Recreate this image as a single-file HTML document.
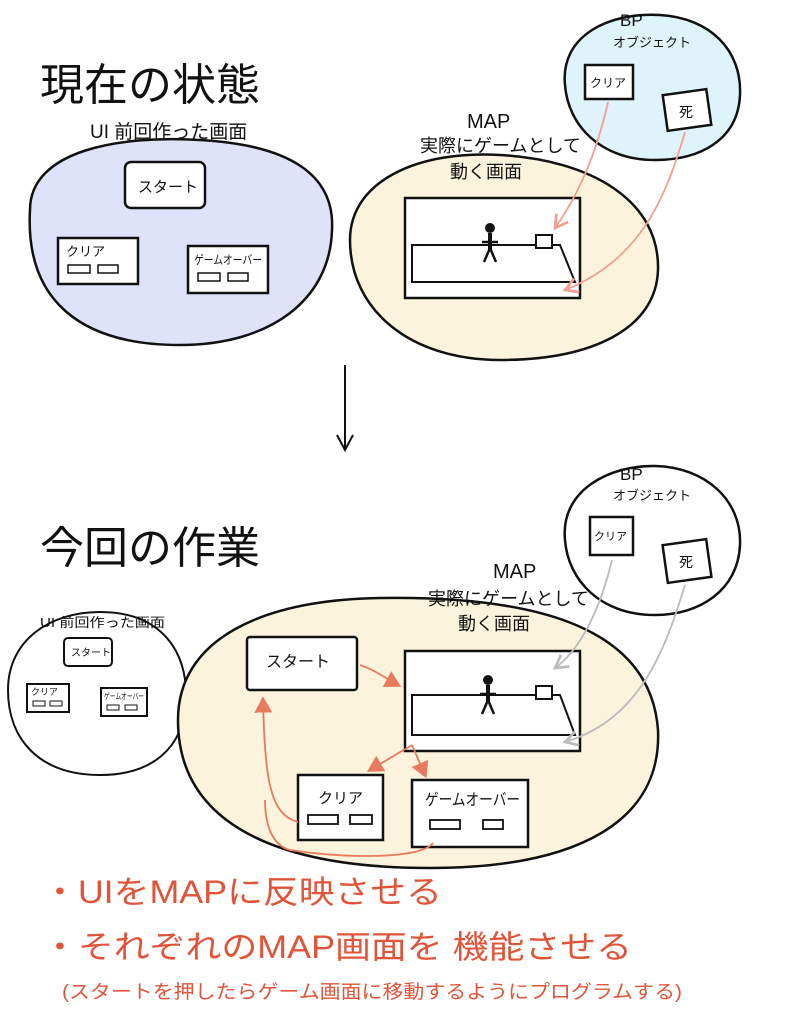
<!DOCTYPE html>
<html><head><meta charset="utf-8"><style>
html,body{margin:0;padding:0;background:#fff;}
svg{display:block;}
text{font-family:"Liberation Sans","Noto Sans CJK JP",sans-serif;fill:#111;}
</style></head><body>
<svg width="802" height="1024" viewBox="0 0 802 1024" xmlns="http://www.w3.org/2000/svg">
<defs>
<marker id="ap" markerWidth="10" markerHeight="10" refX="8" refY="5" orient="auto"><path d="M1,1 L8,5 L1,9" fill="none" stroke="#f0a090" stroke-width="1.5"/></marker>
<marker id="ag" markerWidth="10" markerHeight="10" refX="8" refY="5" orient="auto"><path d="M1,1 L8,5 L1,9" fill="none" stroke="#bbb" stroke-width="1.5"/></marker>
<marker id="ar" markerWidth="10" markerHeight="10" refX="7" refY="5" orient="auto"><path d="M0,0 L9,5 L0,10 Z" fill="#e87a5e"/></marker>
</defs>

<text x="40" y="100" font-size="44">現在の状態</text>

<path d="M30,210 C30,150 120,135 200,140 C290,145 335,175 332,230 C330,300 270,345 180,345 C80,345 25,300 30,210 Z" fill="#dfe2f8" stroke="#111" stroke-width="2.5"/>
<text x="90" y="138" font-size="19">UI 前回作った画面</text>
<rect x="125" y="162" width="80" height="46" rx="6" fill="#fff" stroke="#111" stroke-width="2.5"/>
<text x="138" y="192" font-size="15">スタート</text>
<rect x="58" y="238" width="80" height="46" fill="#fff" stroke="#111" stroke-width="2.5"/>
<text x="66" y="256" font-size="13">クリア</text>
<rect x="68" y="265" width="22" height="8" fill="#fff" stroke="#111" stroke-width="1.5"/><rect x="98" y="265" width="20" height="8" fill="#fff" stroke="#111" stroke-width="1.5"/>
<rect x="188" y="246" width="80" height="47" fill="#fff" stroke="#111" stroke-width="2.5"/>
<text x="194" y="264" font-size="12" textLength="68" lengthAdjust="spacingAndGlyphs">ゲームオーバー</text>
<rect x="198" y="273" width="22" height="8" fill="#fff" stroke="#111" stroke-width="1.5"/><rect x="228" y="273" width="20" height="8" fill="#fff" stroke="#111" stroke-width="1.5"/>

<path d="M350,240 C350,180 420,150 500,155 C590,160 660,200 658,270 C656,330 590,360 500,360 C410,360 350,310 350,240 Z" fill="#fbf3dc" stroke="#111" stroke-width="2.5"/>
<text x="467" y="128" font-size="20">MAP</text>
<text x="420" y="152" font-size="18">実際にゲームとして</text>
<text x="450" y="178" font-size="18">動く画面</text>
<rect x="405" y="198" width="175" height="100" fill="#fff" stroke="#111" stroke-width="2.5"/>
<path d="M412,245 L560,245 L575,282 L412,282 Z" fill="#fff" stroke="#111" stroke-width="2"/>
<circle cx="490" cy="228" r="5" fill="#111"/><line x1="490" y1="233" x2="490" y2="250" stroke="#111" stroke-width="4"/><path d="M484,262 L490,248 L496,262 M482,242 L498,242" stroke="#111" stroke-width="2.5" fill="none"/>
<rect x="536" y="235" width="16" height="13" fill="#fff" stroke="#111" stroke-width="2"/>

<path d="M565,85 C560,35 610,12 660,15 C710,18 742,50 740,95 C738,140 700,160 655,160 C600,160 568,125 565,85 Z" fill="#dff3fb" stroke="#111" stroke-width="2.5"/>
<text x="620" y="26" font-size="17">BP</text>
<text x="613" y="47" font-size="13">オブジェクト</text>
<rect x="585" y="65" width="48" height="34" fill="#fff" stroke="#111" stroke-width="2.5"/><text x="590" y="87" font-size="12">クリア</text>
<rect x="665" y="92" width="44" height="36" fill="#fff" stroke="#111" stroke-width="2.5" transform="rotate(-8 687 110)"/><text x="679" y="117" font-size="14">死</text>
<path d="M608,102 C595,160 575,200 555,228" fill="none" stroke="#f0a090" stroke-width="1.8" marker-end="url(#ap)"/>
<path d="M685,132 C665,200 640,260 565,290" fill="none" stroke="#f0a090" stroke-width="1.8" marker-end="url(#ap)"/>

<line x1="345" y1="365" x2="345" y2="448" stroke="#111" stroke-width="2"/>
<path d="M337,435 L345,450 L353,435" fill="none" stroke="#111" stroke-width="2"/>

<text x="40" y="563" font-size="44">今回の作業</text>

<path d="M8,690 C8,640 50,612 100,612 C160,612 188,650 186,700 C184,750 150,775 100,775 C40,775 8,740 8,690 Z" fill="#fff" stroke="#111" stroke-width="2"/>
<text x="40" y="627" font-size="13" textLength="125" lengthAdjust="spacingAndGlyphs">UI 前回作った画面</text>
<rect x="64" y="638" width="48" height="28" rx="4" fill="#fff" stroke="#111" stroke-width="2"/><text x="71" y="656" font-size="10">スタート</text>
<rect x="27" y="684" width="42" height="28" fill="#fff" stroke="#111" stroke-width="2"/><text x="31" y="695" font-size="9">クリア</text>
<rect x="33" y="701" width="12" height="5" fill="#fff" stroke="#111"/><rect x="50" y="701" width="12" height="5" fill="#fff" stroke="#111"/>
<rect x="101" y="688" width="46" height="28" fill="#fff" stroke="#111" stroke-width="2"/><text x="104" y="699" font-size="8" textLength="40" lengthAdjust="spacingAndGlyphs">ゲームオーバー</text>
<rect x="107" y="705" width="12" height="5" fill="#fff" stroke="#111"/><rect x="125" y="705" width="12" height="5" fill="#fff" stroke="#111"/>

<path d="M178,720 C178,640 260,600 380,598 C520,596 650,620 658,730 C662,820 580,868 430,868 C270,868 178,820 178,720 Z" fill="#fbf3dc" stroke="#111" stroke-width="2.5"/>
<text x="493" y="578" font-size="20">MAP</text>
<text x="428" y="605" font-size="18">実際にゲームとして</text>
<text x="458" y="630" font-size="18">動く画面</text>

<path d="M565,540 C560,490 610,465 655,466 C705,467 742,500 740,545 C738,590 700,615 655,615 C600,615 568,580 565,540 Z" fill="#fff" stroke="#111" stroke-width="2.5"/>
<text x="620" y="480" font-size="17">BP</text>
<text x="613" y="500" font-size="13">オブジェクト</text>
<rect x="590" y="517" width="43" height="38" fill="#fff" stroke="#111" stroke-width="2.5"/><text x="594" y="540" font-size="11">クリア</text>
<rect x="665" y="542" width="44" height="38" fill="#fff" stroke="#111" stroke-width="2.5" transform="rotate(-8 687 561)"/><text x="679" y="567" font-size="14">死</text>

<rect x="405" y="651" width="175" height="100" fill="#fff" stroke="#111" stroke-width="2.5"/>
<path d="M412,695 L560,695 L575,735 L412,735 Z" fill="#fff" stroke="#111" stroke-width="2"/>
<circle cx="488" cy="680" r="5" fill="#111"/><line x1="488" y1="685" x2="488" y2="702" stroke="#111" stroke-width="4"/><path d="M482,714 L488,700 L494,714 M480,694 L496,694" stroke="#111" stroke-width="2.5" fill="none"/>
<rect x="536" y="686" width="16" height="13" fill="#fff" stroke="#111" stroke-width="2"/>
<path d="M612,560 C600,610 580,650 555,668" fill="none" stroke="#bbb" stroke-width="1.8" marker-end="url(#ag)"/>
<path d="M685,585 C665,650 640,720 565,742" fill="none" stroke="#bbb" stroke-width="1.8" marker-end="url(#ag)"/>

<rect x="247" y="637" width="110" height="53" rx="3" fill="#fff" stroke="#111" stroke-width="2.5"/>
<text x="266" y="667" font-size="16">スタート</text>
<rect x="298" y="775" width="85" height="65" fill="#fff" stroke="#111" stroke-width="2.5"/>
<text x="318" y="803" font-size="15">クリア</text>
<rect x="308" y="815" width="30" height="9" fill="#fff" stroke="#111" stroke-width="1.8"/><rect x="350" y="815" width="22" height="9" fill="#fff" stroke="#111" stroke-width="1.8"/>
<rect x="412" y="780" width="116" height="67" fill="#fff" stroke="#111" stroke-width="2.5"/>
<text x="425" y="805" font-size="16" textLength="95" lengthAdjust="spacingAndGlyphs">ゲームオーバー</text>
<rect x="430" y="820" width="30" height="9" fill="#fff" stroke="#111" stroke-width="1.8"/><rect x="483" y="820" width="20" height="9" fill="#fff" stroke="#111" stroke-width="1.8"/>

<g fill="none" stroke="#e87a5e" stroke-width="1.8">
<path d="M360,665 C375,670 385,678 398,685" marker-end="url(#ar)"/>
<path d="M412,745 L370,770" marker-end="url(#ar)"/>
<path d="M412,745 L425,775" marker-end="url(#ar)"/>
<path d="M298,822 C270,815 265,780 263,700" marker-end="url(#ar)"/>
<path d="M433,843 C420,860 340,858 290,850 C270,845 265,820 265,800"/>
</g>

<text x="42" y="903" font-size="32" style="fill:#e0553a" textLength="400" lengthAdjust="spacingAndGlyphs">・UIをMAPに反映させる</text>
<text x="42" y="958" font-size="32" style="fill:#e0553a" textLength="590" lengthAdjust="spacingAndGlyphs">・それぞれのMAP画面を 機能させる</text>
<text x="62" y="998" font-size="19" style="fill:#e0553a" textLength="620" lengthAdjust="spacingAndGlyphs">(スタートを押したらゲーム画面に移動するようにプログラムする)</text>
</svg>
</body></html>
